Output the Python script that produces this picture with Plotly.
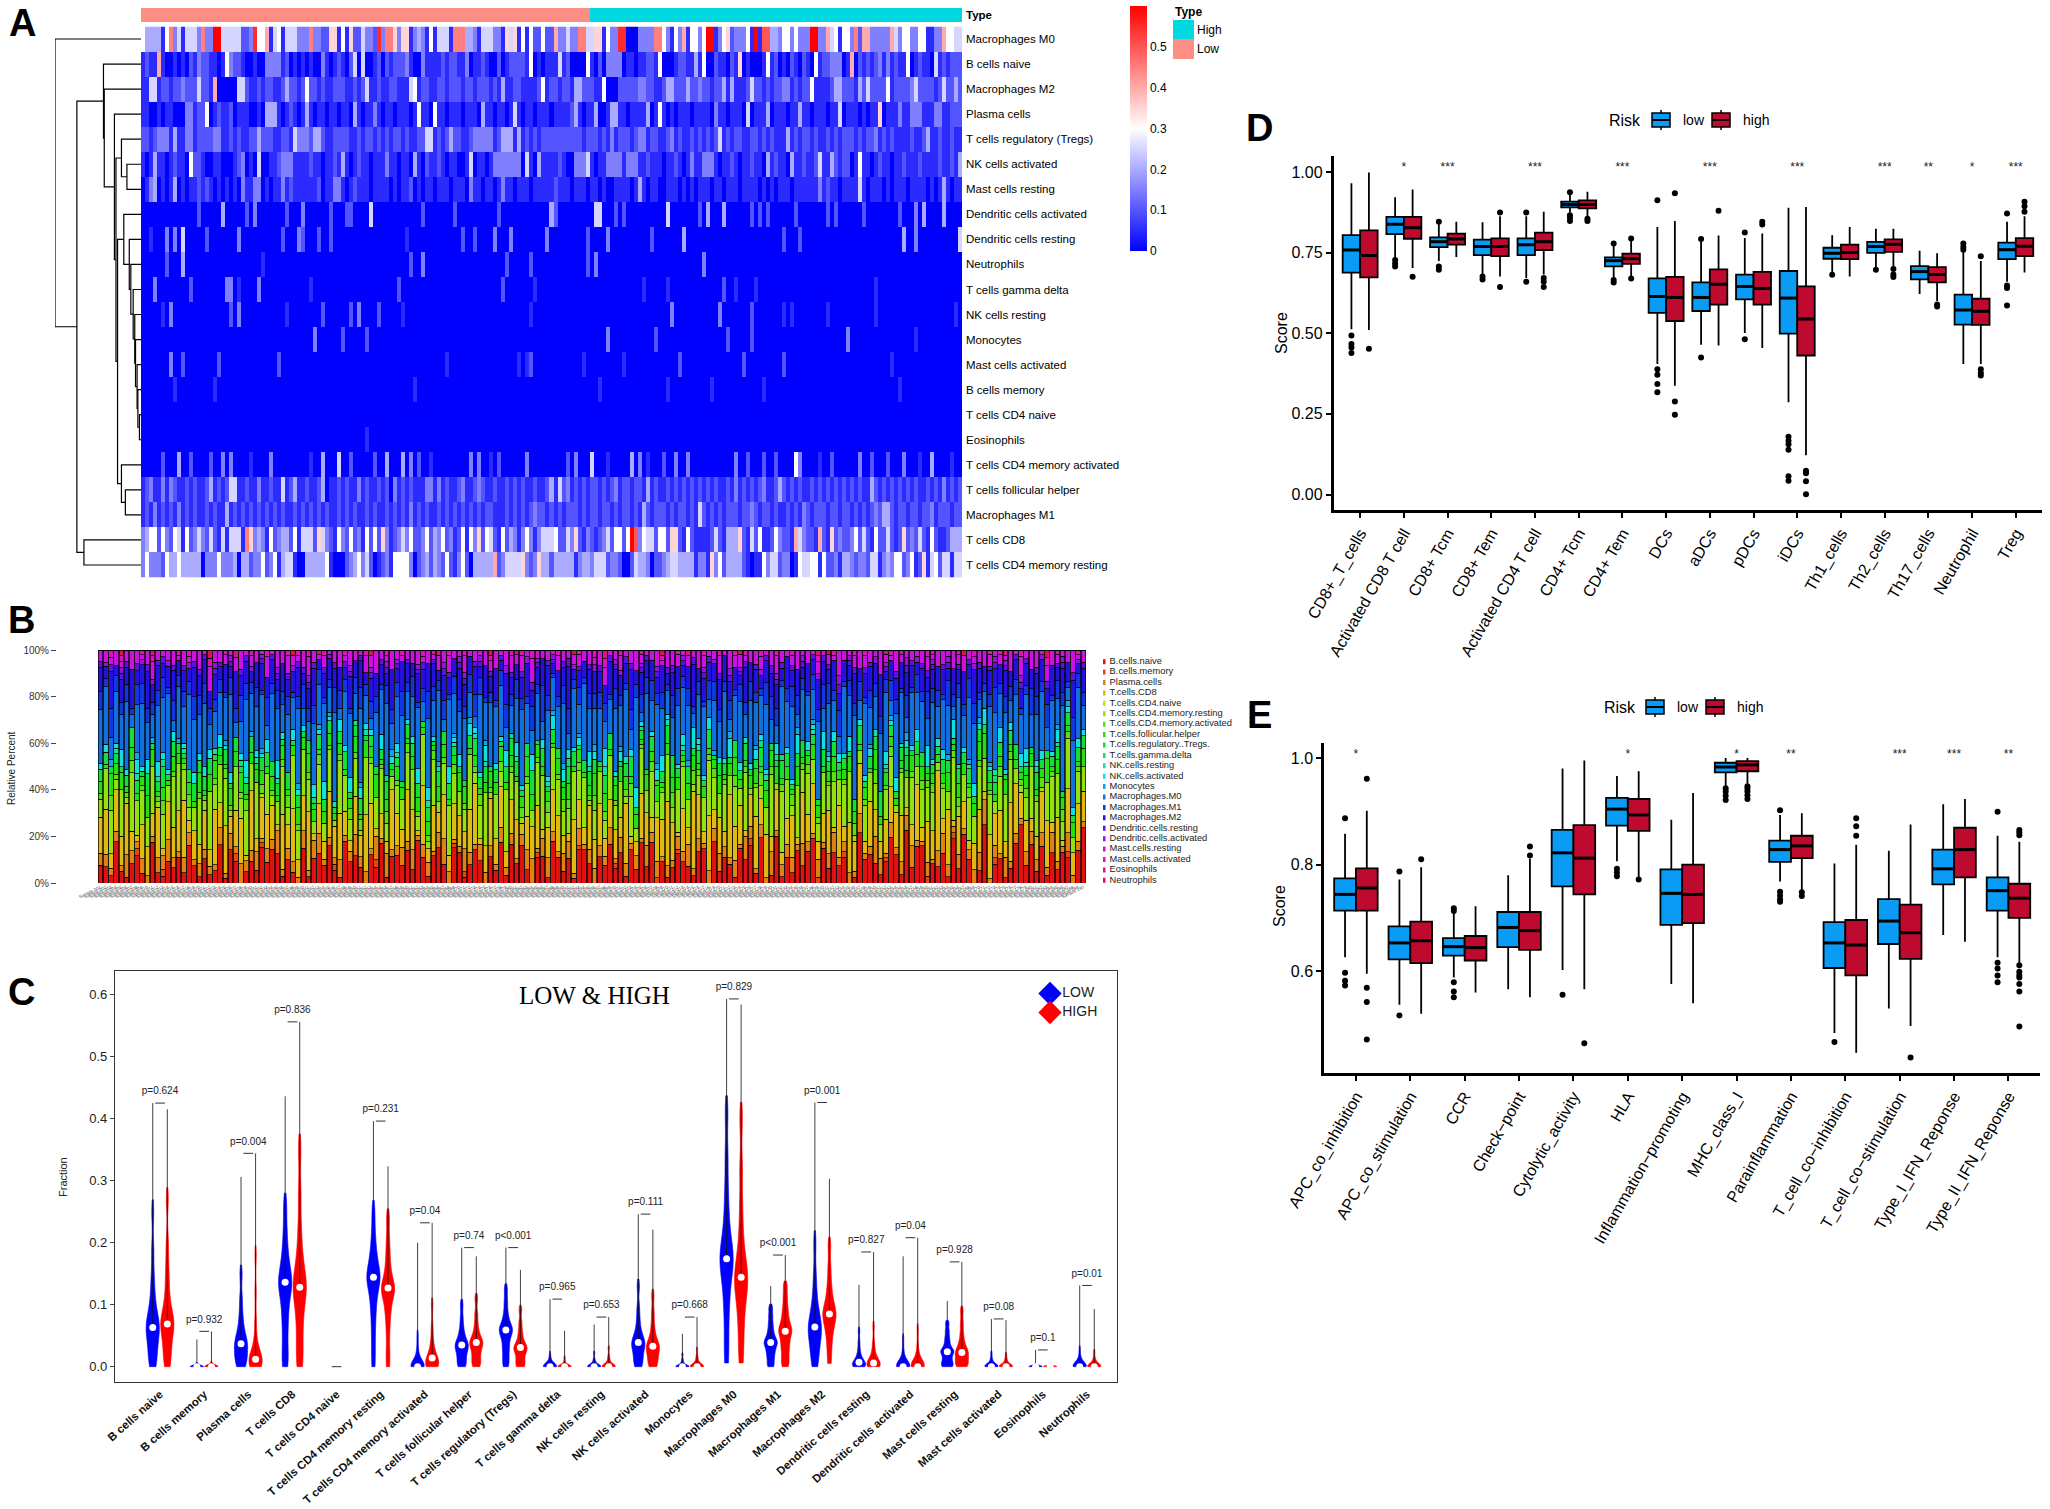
import colorsys
import plotly.graph_objects as go

W, H = 2050, 1509
FONT = "Liberation Sans"

# ---------- panel A: heatmap (one hex digit per sample, 1 digit = 0.05 fraction) ----------
row_names = ["Macrophages M0", "B cells naive", "Macrophages M2", "Plasma cells", "T cells regulatory (Tregs)",
             "NK cells activated", "Mast cells resting", "Dendritic cells activated", "Dendritic cells resting",
             "Neutrophils", "T cells gamma delta", "NK cells resting", "Monocytes", "Mast cells activated",
             "B cells memory", "T cells CD4 naive", "Eosinophils", "T cells CD4 memory activated",
             "T cells follicular helper", "Macrophages M1", "T cells CD8", "T cells CD4 memory resting"]
n_samples = 205
n_low = 112

m0 = "6444416935 15553933cc 55555223b6 6815615553 3393322771 617225332b 3997377134 3161555199 9443155533 1757161622 6228335339 955771633b b000333399 6316381663 6cc1367233 361c1aa443 6636333cc3 3856166392 8833333853 6633661133 86655"
b_naive = "1211810010 1021322110 1632210010 0333312010 1010031012 1025050012 0212223100 3111121221 1301121002 0122221601 0111512000 0610203333 0110112216 0001221141 6002110217 0100016120 1021021061 2233301802 1212313121 1601211051 21222"
m2 = "1155122122 3222522180 0000552112 1221124221 2622121122 2112125112 1122111561 2211221222 1221222121 4112211112 6122122144 2221160002 2222332211 2442224223 2212241411 1252212122 3312122611 1124422214 2522226122 2235222212 52242"
plasma = "1100101100 0331226012 1120111001 0444101210 1410110110 1104101131 0110111016 1106110111 0111041101 1015101101 1101111241 0114001441 1011114016 1010111011 1103110111 0501114011 1011411011 1011501110 1011701113 1133311133 11222"
tregs = "2212333141 1331222233 1121211224 2221122153 3324421122 2211212212 1212212112 2551212422 1123333312 4441412121 2222222222 1222121312 2212331221 1231211212 1212512122 1122121211 1412122121 1212122212 1223121211 1121124112 11211"
nk_act = "1014110121 1062210011 0001230105 0011233311 1121101121 4101211011 1311011041 0211210110 0150110133 3333305104 1111210033 3510113333 1333112111 0112101311 3331011210 1121104121 1041121125 1142122016 1101211011 2111211112 11214"
mast_rest = "0134010140 1011212101 0101031133 0101131211 1111201133 1012111011 1101011201 0110111011 1031101101 3110111011 1112111011 1011010011 1101410110 0111010101 1101101110 1111010101 1101111113 1211011115 1011101011 1011110101 41011"
dc_act = "0000000000 0000200000 4000002030 0000002000 3000000200 0220000500 0000000000 2000000020 0000000002 0000000000 0042000000 0005500020 2000000000 0500000002 0400040000 0020202000 0002000000 0202000000 2000000002 0003040000 40000"
dc_rest = "0010003030 5000002000 0000300000 0000020003 2000200200 0000000000 0000001000 0000000000 2002000030 0030000000 0300000000 0200003000 0000000200 0000040000 0000000000 0000000000 2000200000 0000000000 0000000000 4003000000 00005"
neutro = "0000002000 4000000000 0000000000 1000000000 0000000000 0000000000 0000000200 3000000000 0000000000 0200000200 0000000000 0203000000 0000000000 0000000000 3000000000"
gamma_delta = "0003000000 0020000000 0330100003 0000000000 0010000000 0000000000 0000200000 0000000000 0000000000 2000000010 0000000000 0000000000 0000010000 0100000000 0000020010 0001000000 0000000000 0000000000 0001000000"
nk_rest = "0000010300 0000000000 0020300000 0000001000 0000020000 0020300002 0000010000 0000000000 0000000000 0000000100 0000000000 0000000000 0000000000 0030000000 0000300000 0020000000 1010000000 0100000000 0001000000 0000000000 00010"
mono = "0000000000 0000000000 0000000000 0000000000 0003000000 2000002000 0000000000 0000000000 0000000000 0000000000 0000000000 0000003000 0000000020 0000000000 0000002000 0020000000 0000000000 0000003000 0000000000 0001000000"
mast_act = "0000000300 2000000002 0000000000 0000200000 0000000000 0000000000 0000000000 0000001000 0000000000 0000101200 0000000000 1000000000 1000000000 0000200000 0000000000 2000000000 2000000000 0000000000 0000000100"
b_mem = "0000000010 0000000010 0000000000 0000000000 0000000000 0000000000 0000000010 0000000000 0000000000 0000000000 0000000000 0000100000 0000000000 0100000000 0010000000 0000010000 0000000000 0000000000 0000000001"
cd4_naive = ""
eos = "0000000000 0000000000 0000000000 0000000000 0000000000 0000001000"
cd4_act = "0000020004 0020000200 3030000100 0030000000 0010040005 0020000020 0400040302 0010000000 0030300102 0000003000 0000002030 0050001000 0040301000 2003003000 0000000030 0200020020 0006300001 0020000003 0020002000 3000100400 00100"
tfh = "1231131321 1212112412 1255112113 1121151241 1211240112 1211312112 1203121211 1331312112 3112321121 1212121121 1241523121 2122121231 2212214121 1212121212 1212112131 2121231124 2121211212 1212121212 1142121212 1212112121 31212"
m1 = "1213121213 1212112121 1412121212 1212121121 2121212112 1212112121 1212121312 1211212121 2121212211 1212121232 2121212221 2122122121 2212142122 2121221215 2121212221 2232122121 1212132122 2122122121 2123244212 2122122312 22122"
cd8 = "3466263265 1623532521 5155519734 3162344261 5552753216 3262316262 7312353622 3624362312 6163726521 6243136313 5556225372 1321235266 26ca365526 6277216211 1125214447 2152611263 2218532218 2172322362 5216225212 7232521621 12444"
cd4_rest = "3633326446 4444403336 3334044233 6236145510 0444446100 0234635201 2316666302 3424326213 6204444482 3555573237 4424444413 4435552332 0025443022 3455444413 3173624444 2101163552 3301655661 6223144323 3255134366 2361271562 55155"

heat_rows = [m0, b_naive, m2, plasma, tregs, nk_act, mast_rest, dc_act, dc_rest, neutro, gamma_delta, nk_rest,
             mono, mast_act, b_mem, cd4_naive, eos, cd4_act, tfh, m1, cd8, cd4_rest]

# dendrogram merges: (child, child, height); ids from 22 up are earlier merges
dendro_merges = [(15, 16, 2), (14, 22, 4), (13, 23, 5), (12, 24, 7), (11, 25, 8), (10, 26, 10), (9, 27, 13),
                 (8, 28, 15), (7, 29, 22), (5, 6, 18), (4, 31, 25), (18, 19, 20), (17, 33, 25), (30, 34, 30),
                 (32, 35, 32), (3, 36, 34), (2, 37, 47), (1, 38, 48), (20, 21, 73), (39, 40, 82), (0, 41, 110)]

# ---------- panel B: stacked shares, one hex digit per sample ----------
b_names = ["B.cells.naive", "B.cells.memory", "Plasma.cells", "T.cells.CD8", "T.cells.CD4.naive",
           "T.cells.CD4.memory.resting", "T.cells.CD4.memory.activated", "T.cells.follicular.helper",
           "T.cells.regulatory..Tregs.", "T.cells.gamma.delta", "NK.cells.resting", "NK.cells.activated",
           "Monocytes", "Macrophages.M0", "Macrophages.M1", "Macrophages.M2", "Dendritic.cells.resting",
           "Dendritic.cells.activated", "Mast.cells.resting", "Mast.cells.activated", "Eosinophils", "Neutrophils"]
n_bars = 190
s_naive = "3418213420 7214352631 5129163024 2837514206 1463921745 3052814637 2941673085 1364052817 4720631952 3186405273 6152938041 2743156092 5318462701 8142537906 3625018473 1594273680 4261739502 7035128946 2816354079"
s_memory = "0000000100 0010000000 0000001000 0100000000 0000010000 0001000000 0000000010 1000000000 0000100000 0010000001 0000000100 0100000000 0000010000 0000000010 0001000000 0100000001 0000100000 0010000000 0000001000"
s_plasma = "2312142131 1324213212 2114131322 3122412213 1341213124 2213141232 3122134211 4213221312 1233124213 2141322131 3212142312 1324121233 2131421213 1223142131 3412213124 2131324112 1242131223 3121412132 2314213121"
s_cd8 = "6b28593174 4a1768b253 8296a3571b 2957184a36 9163b58427 4a8152973b 6192a47385 37b1594826 8254a16973 1b73948256 4912a6387b 5183b72946 3a6915b482 7248196a35 9163a582b4 2875b14936 6a39185247 1b5938a472 4962a17385"
s_cd4_naive = ""
s_cd4_rest = "3a62819574 8153a96247 2749a16385 9162473a58 5283a19647 1a74932658 6381a25974 4926a17385 8152a63974 3a79146285 7162a49358 2a85136974 9374a16258 1a62849537 5938a12674 2761a49385 8163a25947 4a27963158 6159a38274"
s_cd4_act = "1021012010 0120101201 1010210120 0201012010 1020101021 2010120102 0101201020 1012010201 0210102012 1020120101 0120102010 2010210120 1020101201 0102012010 1201020102 0120101021 2010120201 0102010120 1201021010"
s_tfh = "2132312123 3121321213 1232132312 2313121232 3212312123 1323121321 2312132123 3121232312 1232312132 2131231213 3212132312 2313212123 1232123132 3121312321 2312321213 1321213231 2123132123 3212312132 1231321213"
s_treg = "2312123213 1231321232 3212312123 1323213121 2132312312 3121231213 2312132321 1232312123 3123121321 2312321232 1231213123 3213121312 2132312321 1321231213 2312123132 3121321231 2132132312 1323123121 3212312132"
s_gamma = "0000000000 0010000000 0000000100 0000000000 0100000000 0000010000 0000000000 0000000001 0000000000 1000000000 0000100000 0000000000 0000000100 0100000000 0000000000 0000010000 0000000000 0010000000"
s_nk_rest = "0001000100 0100001000 0010000010 1000100000 0000010001 0100000100 0001000010 0010100000 1000001000 0000100100 0100000001 0010010000 0000100010 1000000100 0001000001 0100100000 0000010100 0010000010 1000100000"
s_nk_act = "1201310212 0311201021 2103120130 1120310211 0213102130 2110301201 1302110312 0211301120 3102011302 1120310201 2013101231 0120311201 1302012110 2011302103 1210301120 0312011203 1120301021 2103110230 1201301121"
s_mono = "0010000100 1000010000 0000100001 0100000010 0010100000 1000001000 0000010010 0100100000 0000000101 0010010000 1000000100 0001000010 0100001000 0000100100 1000000010 0010010000 0001000101 0100000000 0000101000"
s_m0 = "9e3a6c27d5 4b8e2a7c96 d36a9e25b7 7c2e94a6d3 3a8d6e29c5 e5279c4ab6 6d3a8e2c97 b42e7c9a35 9e63b2d78a 2c7e95a36d 8a3d2e6b94 5e9a27c3b6 d28e4a96c3 3b7e29a6d4 a62d8e3c95 7e39c2a6b4 c4a82e6d93 2e97b3a6c5 8d3a6e29b4"
s_m1 = "3243231342 2331423243 4223132432 3142323124 2331243213 4232132342 3124323142 2343121332 4213243123 3241323214 2132434231 3423121342 2314232143 3124321324 4231323142 2342131324 3214232431 1342323124 3231421332"
s_m2 = "4352436245 3524634253 5243625342 4635243452 3624534263 5243426354 2634524345 4352635243 3452436253 5243534264 4362534352 3524624345 5342635243 4253426354 3624352463 5243634252 4352436354 2634524353 4526343524"
s_dc_rest = "1010110101 0110101011 1011010110 0101101011 1101010110 1010110101 0110101101 1011010101 0101101101 1010101011 0110110101 1010101101 0101101011 1101010101 1010110110 0101011011 1011010101 0110101110 1010110101"
s_dc_act = "0100100010 1001000100 0010010001 0100100100 1000100010 0010010100 0100001001 1001000010 0010100100 0100010001 1000100100 0010001010 0101000100 1000010010 0010100001 0100010100 1001000010 0010100100 0100010010"
s_mast_rest = "2313123212 3212313123 1323212312 2131323213 3212123132 1323213212 2312132321 3121323123 2313212132 1232313212 3123212313 2312132123 1323123212 3212313121 2132123231 3213212132 1231323212 2312131323 3123212312"
s_mast_act = "0010100010 1000010100 0100100001 0010001010 1001000100 0100010010 0010100100 1000010001 0101000010 0010010100 1000100010 0100001001 0010100100 1001000010 0100010100 0010100001 1000010010 0101000100 0010100010"
s_eos = "0000000000 1000000000 0000001000 0000000000 0010000000 0000000000 0000010000 0000000000 1000000000 0000000100 0000000000 0001000000 0000000000 0000000010 0000000000 0100000000 0000000000 0000100000 0000000000"
s_neut = "0000100000 0000000000 0100000000 0000000100 0000000000 0010000000 0000000000 0000010000 0000000000 0100000000 0000000010 0000000000 0001000000 0000000000 1000000000 0000000000 0000001000 0000000000 0010000000"
b_shares = [s_naive, s_memory, s_plasma, s_cd8, s_cd4_naive, s_cd4_rest, s_cd4_act, s_tfh, s_treg, s_gamma, s_nk_rest,
            s_nk_act, s_mono, s_m0, s_m1, s_m2, s_dc_rest, s_dc_act, s_mast_rest, s_mast_act, s_eos, s_neut]

# ---------- panel C: violins, samples in thousandths of a fraction; last two values form the thin spike ----------
c_cats = ["B cells naive", "B cells memory", "Plasma cells", "T cells CD8", "T cells CD4 naive",
          "T cells CD4 memory resting", "T cells CD4 memory activated", "T cells follicular helper",
          "T cells regulatory (Tregs)", "T cells gamma delta", "NK cells resting", "NK cells activated", "Monocytes",
          "Macrophages M0", "Macrophages M1", "Macrophages M2", "Dendritic cells resting",
          "Dendritic cells activated", "Mast cells resting", "Mast cells activated", "Eosinophils", "Neutrophils"]
c_p = ["p=0.624", "p=0.932", "p=0.004", "p=0.836", "", "p=0.231", "p=0.04", "p=0.74", "p<0.001", "p=0.965", "p=0.653",
       "p=0.111", "p=0.668", "p=0.829", "p<0.001", "p=0.001", "p=0.827", "p=0.04", "p=0.928", "p=0.08", "p=0.1", "p=0.01"]
c_bracket = [.425, .057, .344, .556, 0, .396, .232, .192, .192, .109, .08, .246, .08, .593, .18, .426, .185, .208,
             .169, .077, .027, .131]
c_low_median = [.063, 0, .037, .136, None, .144, 0, .035, .059, 0, 0, .039, 0, .174, .039, .064, .007, 0, .024, 0, 0, 0]
c_high_median = [.069, 0, .012, .128, None, .127, .014, .039, .031, 0, 0, .033, 0, .144, .057, .085, .006, 0, .023, 0, 0, 0]
c_low_samples = [
    [0, 5, 15, 25, 35, 45, 55, 60, 63, 66, 72, 80, 90, 105, 125, 150, 190, 250, 330, 425],
    [0, 0, 0, 0, 0, 0, 0, 0, 1, 2, 5, 15, 44],
    [0, 3, 8, 14, 20, 28, 33, 37, 40, 46, 55, 68, 85, 110, 150, 210, 306],
    [0, 15, 40, 65, 85, 105, 120, 132, 136, 142, 155, 170, 190, 220, 260, 320, 436],
    [],
    [0, 30, 60, 85, 105, 120, 135, 142, 144, 150, 160, 175, 190, 215, 250, 300, 396],
    [0, 0, 0, 0, 0, 0, 0, 1, 2, 3, 5, 10, 18, 30, 50, 100, 200],
    [0, 2, 8, 14, 20, 26, 31, 34, 35, 38, 44, 52, 62, 78, 100, 140, 192],
    [0, 8, 18, 28, 36, 45, 52, 58, 59, 62, 68, 76, 88, 105, 125, 155, 192],
    [0, 0, 0, 0, 0, 0, 0, 0, 0, 1, 2, 4, 7, 11, 20, 50, 109],
    [0, 0, 0, 0, 0, 0, 0, 0, 1, 2, 3, 5, 8, 12, 22, 40, 68],
    [0, 3, 9, 16, 23, 30, 36, 38, 39, 42, 50, 60, 75, 95, 130, 180, 246],
    [0, 0, 0, 0, 0, 0, 0, 0, 1, 2, 3, 5, 8, 12, 20, 33, 53],
    [6, 40, 80, 110, 135, 155, 168, 174, 180, 195, 215, 245, 285, 340, 410, 500, 593],
    [0, 6, 14, 20, 26, 31, 36, 39, 41, 46, 52, 60, 70, 82, 95, 112, 130],
    [0, 10, 22, 34, 44, 52, 60, 64, 67, 74, 86, 100, 120, 150, 200, 300, 426],
    [0, 0, 0, 1, 2, 4, 6, 7, 8, 11, 15, 20, 28, 40, 58, 90, 132],
    [0, 0, 0, 0, 0, 0, 0, 1, 2, 3, 5, 9, 15, 26, 45, 90, 178],
    [0, 1, 4, 8, 12, 16, 21, 24, 25, 28, 33, 40, 48, 58, 70, 86, 106],
    [0, 0, 0, 0, 0, 0, 0, 1, 2, 3, 4, 6, 9, 14, 22, 45, 77],
    [0, 0, 0, 0, 0, 0, 0, 0, 0, 0, 0, 0, 0, 1, 2, 8, 27],
    [0, 0, 0, 0, 0, 0, 0, 1, 2, 3, 4, 6, 10, 16, 28, 70, 131]]
c_high_samples = [
    [0, 8, 20, 30, 42, 52, 62, 68, 69, 72, 78, 88, 100, 118, 140, 165, 200, 270, 340, 415],
    [0, 0, 0, 0, 0, 0, 0, 0, 1, 2, 6, 18, 57],
    [0, 0, 2, 4, 6, 8, 10, 12, 13, 16, 22, 32, 48, 75, 120, 180, 260, 344],
    [0, 12, 35, 60, 80, 100, 118, 126, 128, 135, 150, 165, 190, 225, 280, 350, 470, 556],
    [],
    [0, 25, 55, 80, 95, 110, 120, 126, 127, 132, 145, 160, 180, 205, 240, 280, 323],
    [0, 0, 0, 1, 3, 6, 9, 12, 14, 18, 24, 32, 45, 65, 100, 160, 232],
    [0, 3, 9, 16, 22, 28, 34, 38, 39, 42, 48, 56, 68, 85, 110, 140, 178],
    [0, 2, 6, 12, 18, 23, 28, 30, 31, 34, 40, 48, 58, 72, 92, 120, 156],
    [0, 0, 0, 0, 0, 0, 0, 0, 0, 1, 2, 3, 5, 9, 15, 30, 58],
    [0, 0, 0, 0, 0, 0, 0, 1, 2, 3, 5, 8, 12, 18, 30, 50, 80],
    [0, 2, 7, 13, 19, 25, 30, 32, 33, 37, 44, 54, 68, 88, 115, 160, 221],
    [0, 0, 0, 0, 0, 0, 0, 1, 2, 3, 5, 8, 12, 18, 28, 50, 80],
    [6, 35, 65, 90, 110, 125, 138, 144, 150, 165, 185, 215, 260, 320, 400, 490, 584],
    [0, 8, 18, 28, 36, 44, 52, 57, 60, 66, 74, 84, 96, 112, 130, 152, 180],
    [5, 25, 42, 56, 66, 74, 82, 85, 88, 95, 105, 118, 135, 160, 195, 245, 303],
    [0, 0, 0, 1, 2, 3, 5, 6, 7, 10, 14, 20, 28, 40, 65, 110, 185],
    [0, 0, 0, 0, 0, 0, 0, 1, 2, 4, 7, 12, 20, 34, 60, 120, 208],
    [0, 1, 3, 7, 11, 15, 20, 23, 24, 28, 34, 42, 54, 70, 90, 125, 169],
    [0, 0, 0, 0, 0, 0, 0, 1, 1, 2, 4, 6, 9, 13, 20, 40, 75],
    [0, 0, 0, 0, 0, 0, 0, 0, 0, 0, 1, 2],
    [0, 0, 0, 0, 0, 0, 0, 1, 1, 2, 4, 6, 9, 14, 24, 50, 93]]

# ---------- panel D: immune cell scores ----------
d_cats = ["CD8+_T_cells", "Activated CD8 T cell", "CD8+ Tcm", "CD8+ Tem", "Activated CD4 T cell", "CD4+ Tcm", "CD4+ Tem",
          "DCs", "aDCs", "pDCs", "iDCs", "Th1_cells", "Th2_cells", "Th17_cells", "Neutrophil", "Treg"]
d_stars = ["", "*", "***", "", "***", "", "***", "", "***", "", "***", "", "***", "**", "*", "***"]
d_low_q1 = [.688, .807, .767, .742, .742, .89, .707, .563, .569, .605, .499, .731, .749, .667, .527, .73]
d_low_med = [.758, .838, .784, .769, .774, .899, .725, .614, .611, .645, .609, .748, .769, .691, .572, .759]
d_low_q3 = [.804, .861, .797, .79, .794, .908, .735, .67, .658, .682, .693, .765, .783, .708, .62, .781]
d_low_lo = [.512, .733, .724, .682, .671, .874, .671, .405, .464, .501, .286, .688, .701, .622, .405, .66]
d_low_hi = [.965, .922, .84, .844, .863, .931, .773, .829, .784, .795, .889, .804, .824, .756, .756, .846]
d_low_out = [[.493, .467, .456, .439], [.727, .716, .707], [.846, .707, .697], [.676, .667], [.874, .66],
             [.937, .866, .857, .848], [.778, .665, .657], [.912, .388, .371, .343, .317], [.792, .425], [.812, .481],
             [.179, .167, .156, .139, .057, .043], [.681], [.697], [], [.778, .767, .759], [.871, .648, .64, .586]]
d_high_q1 = [.673, .793, .775, .739, .758, .887, .715, .538, .589, .589, .431, .73, .752, .658, .526, .739]
d_high_med = [.741, .827, .792, .769, .784, .899, .731, .611, .652, .639, .544, .75, .776, .682, .568, .77]
d_high_q3 = [.819, .861, .809, .794, .812, .912, .747, .675, .698, .69, .645, .775, .791, .705, .607, .795]
d_high_lo = [.51, .702, .736, .676, .682, .863, .676, .337, .462, .454, .122, .676, .707, .6, .405, .688]
d_high_hi = [.998, .946, .846, .863, .877, .939, .79, .848, .803, .809, .891, .829, .824, .748, .724, .863]
d_high_out = [[.452], [.675], [], [.874, .643], [.671, .66, .643], [.855, .848], [.794, .67], [.934, .288, .247], [.88],
              [.846, .837], [.074, .066, .041, .001], [], [.699, .682, .674], [.589, .583], [.739, .388, .377, .369],
              [.908, .894, .877]]

# ---------- panel E: immune function scores ----------
e_cats = ["APC_co_inhibition", "APC_co_stimulation", "CCR", "Check\u2212point", "Cytolytic_activity", "HLA",
          "Inflammation\u2212promoting", "MHC_class_I", "Parainflammation", "T_cell_co\u2212inhibition",
          "T_cell_co\u2212stimulation", "Type_I_IFN_Reponse", "Type_II_IFN_Reponse"]
e_stars = ["*", "", "", "", "", "*", "", "*", "**", "", "***", "***", "**"]
e_low_q1 = [.7135, .622, .629, .645, .759, .873, .687, .973, .805, .606, .651, .763, .7135]
e_low_med = [.744, .653, .646, .682, .822, .904, .746, .983, .828, .653, .694, .792, .751]
e_low_q3 = [.774, .684, .662, .711, .865, .925, .791, .991, .845, .692, .735, .828, .776]
e_low_lo = [.626, .537, .588, .566, .602, .806, .576, .947, .768, .484, .53, .668, .626]
e_low_hi = [.858, .772, .708, .78, .98, .966, .884, 1.0, .893, .802, .826, .913, .854]
e_low_out = [[.887, .597, .582, .573], [.787, .517], [.718, .713, .579, .562, .551], [], [.556], [.792, .785, .778], [],
             [.943, .937, .929, .921], [.902, .749, .742, .735, .73], [.467], [], [], [.899, .616, .605, .592, .579]]
e_high_q1 = [.7135, .615, .62, .64, .744, .863, .69, .975, .812, .592, .623, .776, .7]
e_high_med = [.756, .657, .644, .676, .812, .893, .744, .987, .835, .649, .672, .828, .737]
e_high_q3 = [.793, .693, .666, .711, .874, .923, .8, .994, .854, .696, .725, .869, .764]
e_high_lo = [.595, .52, .56, .551, .566, .776, .54, .952, .752, .447, .497, .655, .616]
e_high_hi = [.901, .795, .722, .811, .995, .975, .934, 1.0, .896, .837, .875, .923, .843]
e_high_out = [[.961, .569, .542, .472], [.81], [], [.834, .817], [.465], [.772], [], [.947, .942, .937, .93, .923],
              [.748, .741], [.887, .872, .854], [.438], [], [.865, .86, .855, .611, .599, .593, .588, .576, .562, .496]]

LOW_BOX, HIGH_BOX = "#0A9BF5", "#BF0A30"


def dom_x(left, right):
    return [left / W, right / W]


def dom_y(top, bottom):
    return [1 - bottom / H, 1 - top / H]


def text_at(x, y, text, size=12, anchor="left", angle=0, color="black", family=FONT):
    return dict(x=x / W, y=1 - y / H, xref="paper", yref="paper", text=text, showarrow=False, xanchor=anchor,
                yanchor="middle", textangle=angle, font=dict(size=size, color=color, family=family))


def clean_axis(**kw):
    return dict(showgrid=False, zeroline=False, showline=False, **kw)


fig = go.Figure()
notes = []
shapes = []

# --- A
heat_z = [[int(c, 16) * 0.05 for c in r.replace(" ", "").ljust(n_samples, "0")[:n_samples]] for r in heat_rows]
fig.add_trace(go.Heatmap(z=heat_z, x=list(range(n_samples)), y=list(range(len(row_names))), xaxis="x", yaxis="y",
                         zmin=0, zmax=0.6, colorscale=[[0, "#0000FF"], [0.5, "#FFFFFF"], [1, "#FF0000"]],
                         colorbar=dict(x=1130 / W, xanchor="left", xpad=0, y=1 - 251 / H, yanchor="bottom", ypad=0,
                                       thickness=17, lenmode="pixels", len=245, outlinewidth=0, ticks="",
                                       tickvals=[0, .1, .2, .3, .4, .5], ticktext=["0", "0.1", "0.2", "0.3", "0.4", "0.5"],
                                       tickfont=dict(size=12, family=FONT))))
type_flags = [0] * n_low + [1] * (n_samples - n_low)
fig.add_trace(go.Heatmap(z=[type_flags], x=list(range(n_samples)), y=[0], xaxis="x2", yaxis="y2", zmin=0, zmax=1,
                         showscale=False, colorscale=[[0, "#FD8E84"], [1, "#00D9DF"]]))
nodes = [(float(i), 0.0) for i in range(len(row_names))]
dx, dy = [], []
for a, b, h in dendro_merges:
    ya, ha = nodes[a]
    yb, hb = nodes[b]
    dx += [ha, h, h, hb, None]
    dy += [ya, ya, yb, yb, None]
    nodes.append(((ya + yb) / 2, h))
fig.add_trace(go.Scatter(x=dx, y=dy, mode="lines", line=dict(color="black", width=1.2), xaxis="x3", yaxis="y3",
                         showlegend=False, hoverinfo="skip"))
shapes += [dict(type="rect", xref="paper", yref="paper", x0=1173 / W, x1=1194 / W, y0=1 - 39 / H, y1=1 - 20 / H,
                fillcolor="#00D9DF", line_width=0),
           dict(type="rect", xref="paper", yref="paper", x0=1173 / W, x1=1194 / W, y0=1 - 59 / H, y1=1 - 39 / H,
                fillcolor="#FD8E84", line_width=0)]
notes += [text_at(1173, 12, "<b>Type</b>"), text_at(1195, 30, "High"), text_at(1195, 49, "Low")]

# --- B
bar_x = list(range(n_bars))
bar_colors = []
for i in range(len(b_names)):
    r, g, b = colorsys.hsv_to_rgb(i / len(b_names), 0.92, 0.88)
    bar_colors.append(f"rgb({int(r * 255)},{int(g * 255)},{int(b * 255)})")
for name, share, col in zip(b_names, b_shares, bar_colors):
    vals = [int(c, 16) for c in share.replace(" ", "").ljust(n_bars, "0")[:n_bars]]
    fig.add_trace(go.Bar(x=bar_x, y=vals, name=name, marker=dict(color=col, line=dict(color="black", width=0.7)),
                         xaxis="x4", yaxis="y4", showlegend=False))
key_y = list(range(len(b_names)))
fig.add_trace(go.Scatter(x=[0] * len(b_names), y=key_y, mode="markers", marker=dict(symbol="square", size=5, color=bar_colors),
                         xaxis="x5", yaxis="y5", showlegend=False, hoverinfo="skip"))
fig.add_trace(go.Scatter(x=[0.045] * len(b_names), y=key_y, mode="text", text=b_names, textposition="middle right",
                         textfont=dict(size=9.3, color="#222222", family=FONT), xaxis="x5", yaxis="y5",
                         showlegend=False, hoverinfo="skip"))
notes.append(text_at(12, 768, "Relative Percent", size=10, anchor="center", angle=-90, color="#222222"))

# --- C
for group, samples, medians, offset, col in (("low", c_low_samples, c_low_median, -0.165, "#0000FF"),
                                             ("high", c_high_samples, c_high_median, 0.165, "#FF0000")):
    wx, wy, dot_x, dot_y = [], [], [], []
    for i, s in enumerate(samples):
        if not s:
            continue
        vals = [v / 1000 for v in s]
        top = max(vals)
        body = vals[:-2]
        bw = max(top / 22, 0.002)
        fig.add_trace(go.Violin(y=body, x=[i + offset] * len(body), width=0.3, scalemode="width", spanmode="manual",
                                span=[vals[0], max(body) + bw], bandwidth=bw, points=False,
                                line=dict(color=col, width=0.6), fillcolor=col, opacity=1, xaxis="x6", yaxis="y6",
                                showlegend=False, hoverinfo="skip"))
        wx += [i + offset, i + offset, None]
        wy += [medians[i], top, None]
        dot_x.append(i + offset)
        dot_y.append(medians[i])
    fig.add_trace(go.Scatter(x=wx, y=wy, mode="lines", line=dict(color="#111111", width=0.8), xaxis="x6", yaxis="y6",
                             showlegend=False, hoverinfo="skip"))
    fig.add_trace(go.Scatter(x=dot_x, y=dot_y, mode="markers", marker=dict(color="white", size=7), xaxis="x6",
                             yaxis="y6", showlegend=False, hoverinfo="skip", cliponaxis=False))
bx, by = [], []
for i, v in enumerate(c_bracket):
    bx += [i - 0.11, i + 0.11, None]
    by += [v, v, None]
fig.add_trace(go.Scatter(x=bx, y=by, mode="lines", line=dict(color="#333333", width=1), xaxis="x6", yaxis="y6",
                         showlegend=False, hoverinfo="skip"))
fig.add_trace(go.Scatter(x=list(range(len(c_p))), y=[v + 0.01 for v in c_bracket], mode="text", text=c_p,
                         textposition="top center", textfont=dict(size=10, color="#222222", family=FONT), xaxis="x6",
                         yaxis="y6", showlegend=False, hoverinfo="skip", cliponaxis=False))
fig.add_trace(go.Scatter(x=[0, 0], y=[1, 0], mode="markers+text", text=["LOW", "HIGH"], textposition="middle right",
                         textfont=dict(size=14, family=FONT, color="#222222"),
                         marker=dict(symbol="diamond", size=18, color=["#0000FF", "#FF0000"]),
                         xaxis="x7", yaxis="y7", showlegend=False, hoverinfo="skip", cliponaxis=False))
notes.append(text_at(594, 995, "LOW &amp; HIGH", size=25, anchor="center", family="Liberation Serif"))
notes.append(text_at(63, 1177, "Fraction", size=11, anchor="center", angle=-90, color="#222222"))


# --- D, E
def add_group(xa, ya, offset, q1, med, q3, lo, hi, out, col):
    n = len(q1)
    xs = [i + offset for i in range(n)]
    fig.add_trace(go.Box(x=xs, q1=q1, median=med, q3=q3, lowerfence=lo, upperfence=hi, width=0.4, whiskerwidth=0,
                         fillcolor=col, line=dict(color="black", width=1.8), boxpoints=False, xaxis=xa, yaxis=ya,
                         showlegend=False))
    mx, my = [], []
    for x, m in zip(xs, med):
        mx += [x - 0.2, x + 0.2, None]
        my += [m, m, None]
    fig.add_trace(go.Scatter(x=mx, y=my, mode="lines", line=dict(color="black", width=3), xaxis=xa, yaxis=ya,
                             showlegend=False, hoverinfo="skip"))
    ox = [x for x, vals in zip(xs, out) for _ in vals]
    oy = [v for vals in out for v in vals]
    fig.add_trace(go.Scatter(x=ox, y=oy, mode="markers", marker=dict(color="black", size=6), xaxis=xa, yaxis=ya,
                             showlegend=False, hoverinfo="skip"))


def box_key(cx, cy, col):
    for kind, a, b, c, d, extra in (("line", cx, cy - 10, cx, cy + 10, dict(line=dict(color="black", width=1.5))),
                                    ("rect", cx - 9, cy - 7, cx + 9, cy + 7,
                                     dict(fillcolor=col, line=dict(color="black", width=1.5))),
                                    ("line", cx - 9, cy, cx + 9, cy, dict(line=dict(color="black", width=2)))):
        shapes.append(dict(type=kind, xref="paper", yref="paper", x0=a / W, x1=c / W, y0=1 - b / H, y1=1 - d / H, **extra))


add_group("x8", "y8", -0.2, d_low_q1, d_low_med, d_low_q3, d_low_lo, d_low_hi, d_low_out, LOW_BOX)
add_group("x8", "y8", 0.2, d_high_q1, d_high_med, d_high_q3, d_high_lo, d_high_hi, d_high_out, HIGH_BOX)
fig.add_trace(go.Scatter(x=list(range(len(d_cats))), y=[1.012] * len(d_cats), mode="text", text=d_stars,
                         textfont=dict(size=12, color="#222222", family=FONT), xaxis="x8", yaxis="y8",
                         showlegend=False, hoverinfo="skip"))
add_group("x9", "y9", -0.2, e_low_q1, e_low_med, e_low_q3, e_low_lo, e_low_hi, e_low_out, LOW_BOX)
add_group("x9", "y9", 0.2, e_high_q1, e_high_med, e_high_q3, e_high_lo, e_high_hi, e_high_out, HIGH_BOX)
fig.add_trace(go.Scatter(x=list(range(len(e_cats))), y=[1.006] * len(e_cats), mode="text", text=e_stars,
                         textfont=dict(size=12, color="#222222", family=FONT), xaxis="x9", yaxis="y9",
                         showlegend=False, hoverinfo="skip"))
notes += [text_at(1281, 333, "Score", size=16, anchor="center", angle=-90),
          text_at(1279, 906, "Score", size=16, anchor="center", angle=-90)]
notes += [text_at(1625, 120, "Risk", size=16, anchor="center"), text_at(1681, 120, "low", size=14),
          text_at(1741, 120, "high", size=14),
          text_at(1620, 707, "Risk", size=16, anchor="center"), text_at(1675, 707, "low", size=14),
          text_at(1735, 707, "high", size=14)]
box_key(1661, 120, LOW_BOX)
box_key(1721, 120, HIGH_BOX)
box_key(1655, 707, LOW_BOX)
box_key(1715, 707, HIGH_BOX)

# panel letters
for letter, x, y in (("A", 22, 23), ("B", 21, 620), ("C", 21, 992), ("D", 1259, 128), ("E", 1259, 715)):
    notes.append(text_at(x, y, f"<b>{letter}</b>", size=38, anchor="center"))

blank = dict(visible=False)
box_axis = dict(showgrid=False, zeroline=False, showline=True, linecolor="black", linewidth=2.5, ticks="outside",
                ticklen=5, tickwidth=2, tickcolor="black")
fig.update_layout(
    width=W, height=H, margin=dict(l=0, r=0, t=0, b=0, autoexpand=False), autosize=False, paper_bgcolor="white",
    plot_bgcolor="white", font=dict(family=FONT, color="black"), barmode="stack", barnorm="percent", bargap=0.08,
    boxmode="overlay", violinmode="overlay", shapes=shapes, annotations=notes,
    xaxis=dict(domain=dom_x(141, 962), range=[-0.5, n_samples - 0.5], anchor="y", **blank),
    yaxis=clean_axis(domain=dom_y(26.5, 577.5), range=[21.5, -0.5], anchor="x", side="right", tickvals=list(range(22)),
                     ticktext=row_names, tickfont=dict(size=11.5), ticks="", ticklabelstandoff=3),
    xaxis2=dict(domain=dom_x(141, 962), range=[-0.5, n_samples - 0.5], anchor="y2", **blank),
    yaxis2=clean_axis(domain=dom_y(8, 22), range=[-0.5, 0.5], anchor="x2", side="right", tickvals=[0],
                      ticktext=["<b>Type</b>"], tickfont=dict(size=11.5), ticks="", ticklabelstandoff=3),
    xaxis3=dict(domain=dom_x(55, 141), range=[110, 0], anchor="y3", **blank),
    yaxis3=dict(domain=dom_y(26.5, 577.5), range=[21.5, -0.5], anchor="x3", **blank),
    xaxis4=clean_axis(domain=dom_x(57, 1086), range=[-0.5 - 41 / (988 / n_bars), n_bars - 0.5], anchor="y4",
                      tickvals=bar_x, ticktext=[f"Sample.{i + 1:03d}" for i in bar_x], tickangle=-25,
                      tickfont=dict(size=4.5, color="#555555"), ticks=""),
    yaxis4=clean_axis(domain=dom_y(650, 883), range=[0, 100], anchor="x4", tickvals=[0, 20, 40, 60, 80, 100],
                      ticktext=["0%", "20%", "40%", "60%", "80%", "100%"], ticks="outside", ticklen=5,
                      tickcolor="#444444", tickfont=dict(size=10, color="#333333")),
    xaxis5=dict(domain=dom_x(1103, 1250), range=[0, 1], anchor="y5", **blank),
    yaxis5=dict(domain=dom_y(656.5, 885.5), range=[21.5, -0.5], anchor="x5", **blank),
    xaxis6=dict(domain=dom_x(115, 1117), range=[-1.02, 21.68], anchor="y6", showgrid=False, zeroline=False, showline=True,
                mirror=True, linecolor="#333333", linewidth=1.2, tickvals=list(range(22)), ticktext=c_cats, tickangle=-42,
                ticks="", tickfont=dict(size=11.5, color="#111111", weight="bold")),
    yaxis6=dict(domain=dom_y(971, 1382), range=[-0.0247, 0.638], anchor="x6", showgrid=False, zeroline=False,
                showline=True, mirror=True, linecolor="#333333", linewidth=1.2, tickvals=[0, .1, .2, .3, .4, .5, .6],
                tickformat=".1f", ticks="outside", ticklen=4, tickfont=dict(size=13, color="#222222")),
    xaxis7=dict(domain=dom_x(1050, 1116), range=[0, 1], anchor="y7", **blank),
    yaxis7=dict(domain=dom_y(993.5, 1012.5), range=[0, 1], anchor="x7", **blank),
    xaxis8=dict(domain=dom_x(1333.5, 2042), range=[-0.61, 15.6], anchor="y8", tickvals=list(range(16)), ticktext=d_cats,
                tickangle=-60, tickfont=dict(size=16), **box_axis),
    yaxis8=dict(domain=dom_y(156, 510), range=[-0.048, 1.0495], anchor="x8", tickvals=[0, .25, .5, .75, 1],
                tickformat=".2f", tickfont=dict(size=16), **box_axis),
    xaxis9=dict(domain=dom_x(1324, 2040), range=[-0.587, 12.58], anchor="y9", tickvals=list(range(13)), ticktext=e_cats,
                tickangle=-60, tickfont=dict(size=16), **box_axis),
    yaxis9=dict(domain=dom_y(743, 1073), range=[0.409, 1.028], anchor="x9", tickvals=[.6, .8, 1.0], tickformat=".1f",
                tickfont=dict(size=16), **box_axis),
)
fig.write_html("out.html", post_script="document.body.style.margin='0'", config={"displayModeBar": False})
